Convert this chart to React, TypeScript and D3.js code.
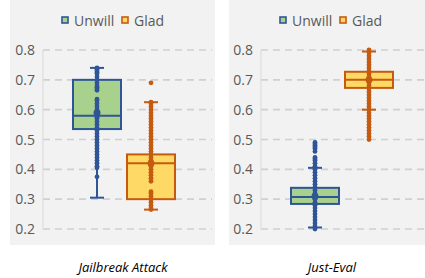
import React from 'react'
import * as d3 from 'd3'

// series + panels
const series = ['Unwill', 'Glad']
const panels = ['Jailbreak Attack', 'Just-Eval']
const yTicks = [0.2, 0.3, 0.4, 0.5, 0.6, 0.7, 0.8]

// box stats per panel: [Unwill, Glad]
const q1 = [[0.535, 0.3], [0.284, 0.673]]
const median = [[0.58, 0.42], [0.307, 0.7]]
const q3 = [[0.7, 0.45], [0.338, 0.727]]
const whiskerLow = [[0.305, 0.265], [0.205, 0.6]]
const whiskerHigh = [[0.74, 0.625], [0.405, 0.795]]
const means = [[0.59, 0.42], [0.31, 0.7]]

// individual points
const jbUnwill = [0.74, 0.735, 0.73, 0.725, 0.72, 0.71, 0.7, 0.69, 0.68, 0.675, 0.67, 0.665,
  0.635, 0.63, 0.62, 0.61, 0.6, 0.595, 0.59, 0.585, 0.58, 0.575, 0.57, 0.56, 0.55, 0.54, 0.53,
  0.52, 0.51, 0.5, 0.49, 0.48, 0.47, 0.46, 0.45, 0.44, 0.43, 0.42, 0.41, 0.405, 0.375]
const jbGlad = [0.69, 0.625, 0.62, 0.61, 0.6, 0.59, 0.58, 0.57, 0.56, 0.55, 0.54, 0.53, 0.52,
  0.51, 0.5, 0.49, 0.48, 0.47, 0.46, 0.45, 0.44, 0.43, 0.42, 0.41, 0.4, 0.39, 0.38, 0.37, 0.36,
  0.325, 0.32, 0.31, 0.3, 0.29, 0.28, 0.27, 0.265]
const jeUnwill = [0.49, 0.485, 0.48, 0.475, 0.47, 0.46, 0.44, 0.435, 0.43, 0.42, 0.41, 0.4,
  0.39, 0.38, 0.37, 0.36, 0.35, 0.34, 0.33, 0.32, 0.31, 0.3, 0.29, 0.28, 0.27, 0.26, 0.25,
  0.24, 0.23, 0.22, 0.21, 0.2]
const jeGlad = [0.8, 0.79, 0.78, 0.77, 0.76, 0.75, 0.74, 0.73, 0.72, 0.71, 0.7, 0.69, 0.68,
  0.67, 0.66, 0.65, 0.64, 0.63, 0.62, 0.61, 0.6, 0.59, 0.58, 0.57, 0.56, 0.55, 0.54, 0.53,
  0.52, 0.51, 0.5]
const points = [[jbUnwill, jbGlad], [jeUnwill, jeGlad]]

const strokeCol = ['#2f5597', '#c55a11']
const fillCol = ['#a9d18e', '#ffd966']
const font = '"Open Sans", sans-serif'

const y = d3.scaleLinear().domain([0.2, 0.8]).range([229, 50])

function Panel({ idx, x0, width, axisX, labelX }: { idx: number, x0: number, width: number, axisX: number, labelX: number }) {
  const x = d3.scalePoint<string>().domain(series).range([axisX + 54, axisX + 108])
  const bw = 48
  const cap = 14
  const legendX = axisX + 19
  return (
    <g>
      <rect x={x0} y={0} width={width} height={245} fill="#f2f2f2" />
      {/* legend */}
      <g fontFamily={font} fontSize={14} fill="#595959">
        <rect x={legendX} y={17} width={6} height={6} fill={fillCol[0]} stroke={strokeCol[0]} strokeWidth={1.6} />
        <text x={legendX + 12} y={26}>Unwill</text>
        <rect x={legendX + 60} y={17} width={6} height={6} fill={fillCol[1]} stroke={strokeCol[1]} strokeWidth={1.6} />
        <text x={legendX + 72} y={26}>Glad</text>
      </g>
      {/* grid + ticks */}
      {yTicks.map(t => (
        <g key={t}>
          <line x1={axisX} x2={x0 + width - 3} y1={y(t)} y2={y(t)} stroke="#d0d0d0" strokeWidth={1.6} strokeDasharray="7 5" />
          <text x={axisX - 8} y={y(t) + 5} textAnchor="end" fontFamily={font} fontSize={14} fill="#595959">{t.toFixed(1)}</text>
        </g>
      ))}
      <line x1={axisX} x2={axisX} y1={y(0.8)} y2={y(0.2)} stroke="#d9d9d9" strokeWidth={1} />
      {series.map((s, i) => {
        const cx = x(s) as number
        return (
          <g key={s}>
            <line x1={cx} x2={cx} y1={y(whiskerLow[idx][i])} y2={y(whiskerHigh[idx][i])} stroke={strokeCol[i]} strokeWidth={2} />
            <line x1={cx - cap / 2} x2={cx + cap / 2} y1={y(whiskerLow[idx][i])} y2={y(whiskerLow[idx][i])} stroke={strokeCol[i]} strokeWidth={2} />
            <line x1={cx - cap / 2} x2={cx + cap / 2} y1={y(whiskerHigh[idx][i])} y2={y(whiskerHigh[idx][i])} stroke={strokeCol[i]} strokeWidth={2} />
            <rect x={cx - bw / 2} y={y(q3[idx][i])} width={bw} height={y(q1[idx][i]) - y(q3[idx][i])}
              fill={fillCol[i]} stroke={strokeCol[i]} strokeWidth={2} />
            <line x1={cx - bw / 2} x2={cx + bw / 2} y1={y(median[idx][i])} y2={y(median[idx][i])} stroke={strokeCol[i]} strokeWidth={2} />
            {points[idx][i].map((v, k) => (
              <circle key={k} cx={cx} cy={y(v)} r={2.4} fill={strokeCol[i]} />
            ))}
            <circle cx={cx} cy={y(means[idx][i])} r={3.5} fill={strokeCol[i]} />
          </g>
        )
      })}
      <text x={labelX} y={272} textAnchor="middle" fontFamily={font} fontStyle="italic" fontSize={13} fill="#000">{panels[idx]}</text>
    </g>
  )
}

export default function App() {
  return (
    <svg width={425} height={278} style={{ position: 'absolute', left: 0, top: 0, background: '#fff' }}>
      <Panel idx={0} x0={10} width={205} axisX={43} labelX={123} />
      <Panel idx={1} x0={229} width={205} axisX={261} labelX={332} />
    </svg>
  )
}
